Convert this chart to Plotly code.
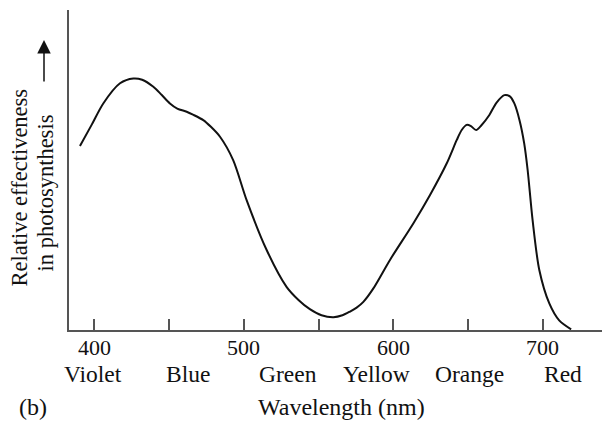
import plotly.graph_objects as go

# Action spectrum of photosynthesis
wavelength_nm = [390.4, 398.2, 406.0, 417.2, 426.1, 432, 439.5, 445, 450.6, 455.5, 461.8,
                 466, 472.9, 478, 484.1, 492.9, 501.9, 515.3, 528.6, 536.6, 544.2,
                 552, 560, 566, 570.8, 575.5, 580.0, 586.7, 597.8, 613.4, 624.6,
                 635.8, 642.5, 645.8, 649.1, 652, 655.4, 659, 664.3, 669, 674.3,
                 678, 681, 684.5, 687.6, 689.9, 693.2, 697.7, 704.4, 711, 719]
effectiveness = [57.5, 64.1, 70.8, 77.1, 78.6, 78.2, 76.0, 73.5, 70.8, 69.2, 68.2,
                 67.3, 65.6, 63.5, 60.4, 53.1, 40.6, 25.0, 13.5, 9.4, 6.5,
                 4.6, 4.0, 4.6, 5.7, 7.0, 8.8, 13.0, 21.9, 33.3, 42.2,
                 52.1, 59.4, 62.5, 64.1, 63.7, 62.5, 64.0, 67.2, 71.0, 73.4,
                 73.0, 70.8, 65.5, 58.3, 50.0, 34.4, 18.75, 8.3, 3.0, 0.2]

tick_values = [400, 450, 500, 550, 600, 650, 700]
label_values = [400, 500, 600, 700]
label_texts = ["400", "500", "600", "700"]

color_names = ["Violet", "Blue", "Green", "Yellow", "Orange", "Red"]
color_positions = [399, 462.5, 529.5, 589, 651, 713.5]

FONT = "Liberation Serif"
INK = "#111111"
OFF = 8  # page body margin
W, H = 610 - OFF, 421 - OFF
L, T, B = 69 - OFF, 10 - OFF, 91
PW = W - L
PH = H - T - B


def px_x(p):
    return (p - OFF - L) / PW


def px_y(p):
    return (H - B - (p - OFF)) / PH


fig = go.Figure()
fig.add_trace(go.Scatter(
    x=wavelength_nm, y=effectiveness, mode="lines",
    line=dict(color=INK, width=2, shape="spline", smoothing=0.8),
    hoverinfo="skip", showlegend=False,
))

annotations = []
for val, txt in zip(label_values, label_texts):
    annotations.append(dict(
        x=val, y=px_y(347.5), xref="x", yref="paper", text=txt, showarrow=False,
        xanchor="center", yanchor="middle", borderpad=0,
        font=dict(family=FONT, size=22, color=INK),
    ))
for name, pos in zip(color_names, color_positions):
    annotations.append(dict(
        x=pos, y=px_y(374), xref="x", yref="paper", text=name, showarrow=False,
        xanchor="center", yanchor="middle", borderpad=0,
        font=dict(family=FONT, size=23.5, color=INK),
    ))

annotations.append(dict(
    x=px_x(341.7), y=px_y(407), xref="paper", yref="paper", text="Wavelength (nm)",
    showarrow=False, xanchor="center", yanchor="middle", borderpad=0,
    font=dict(family=FONT, size=24, color=INK),
))
annotations.append(dict(
    x=px_x(32.5), y=px_y(407), xref="paper", yref="paper", text="(b)",
    showarrow=False, xanchor="center", yanchor="middle", borderpad=0,
    font=dict(family=FONT, size=24, color=INK),
))
annotations.append(dict(
    x=px_x(19), y=px_y(187.5), xref="paper", yref="paper", text="Relative effectiveness",
    showarrow=False, xanchor="center", yanchor="middle", textangle=-90, borderpad=0,
    font=dict(family=FONT, size=22.5, color=INK),
))
annotations.append(dict(
    x=px_x(44.5), y=px_y(193), xref="paper", yref="paper", text="in photosynthesis",
    showarrow=False, xanchor="center", yanchor="middle", textangle=-90, borderpad=0,
    font=dict(family=FONT, size=22.5, color=INK),
))
annotations.append(dict(
    x=px_x(44), y=px_y(40), xref="paper", yref="paper", text="",
    showarrow=True, ax=0, ay=43, arrowhead=2, arrowsize=1.8, arrowwidth=1.5,
    arrowcolor=INK,
))

fig.update_layout(
    width=W, height=H,
    margin=dict(l=L, r=0, t=T, b=B),
    paper_bgcolor="white", plot_bgcolor="white",
    showlegend=False,
    xaxis=dict(
        range=[383.07, 745.0], tickvals=tick_values, showticklabels=False,
        ticks="inside", ticklen=11, tickwidth=1.5, tickcolor="#555555",
        showline=True, linecolor="#555555", linewidth=1.5,
        showgrid=False, zeroline=False,
    ),
    yaxis=dict(
        range=[0, 100], showticklabels=False, ticks="",
        showline=True, linecolor="#555555", linewidth=1.5,
        showgrid=False, zeroline=False,
    ),
    annotations=annotations,
)

fig.write_html("out.html")
